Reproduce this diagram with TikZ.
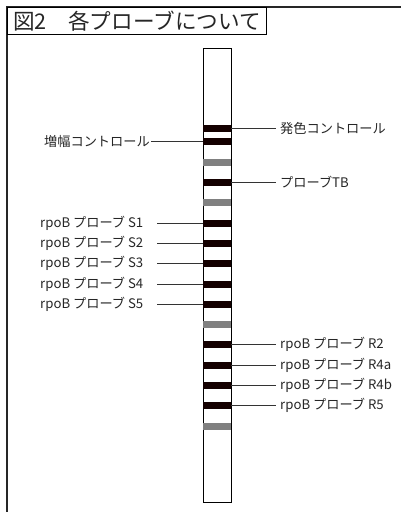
\documentclass[tikz,border=0pt]{standalone}
\usepackage{fontspec}
\setmainfont{Noto Sans CJK JP}
\newfontfamily\jp{Noto Sans CJK JP}
\begin{document}
\begin{tikzpicture}[x=1pt,y=-1pt,
  lbl/.style={font=\jp\fontsize{13.2}{15}\selectfont, inner sep=0pt, text=black!85},
  blackband/.style={fill=black!92!red},
  grayband/.style={fill=black!50},
  conn/.style={line width=0.9pt, black!80}]
\useasboundingbox (0,0) rectangle (401,512);
% frame
\draw[line width=1.2pt, black!85] (7,512) -- (7,7) -- (401,7);
\node[draw, line width=1pt, minimum width=259pt, minimum height=27pt, anchor=north west, inner sep=0pt] (title) at (7,7) {};
\node[anchor=west, inner sep=0pt, font=\jp\fontsize{21.6}{23}\selectfont, text=black!85] (titletext) at (13,21) {図2　各プローブについて};
% strip
\node[draw, line width=1.4pt, minimum width=28pt, minimum height=454pt, anchor=north west, inner sep=0pt] (strip) at (203,48) {};
% bands
\foreach \y [count=\i] in {128,141,162,182,202,223,243,263,284,304,324,344,365,385,405,426}{
  \coordinate (L\i) at (203,\y);
  \coordinate (R\i) at (231,\y);
}
\foreach \y in {128,141,182,223,243,263,284,304,344,365,385,405}
  \fill[blackband] (203,\y-3.5) rectangle (231,\y+3.5);
\foreach \y in {162,202,324,426}
  \fill[grayband] (203,\y-3.5) rectangle (231,\y+3.5);
% right labels
\node[lbl, anchor=west] (hasshoku) at (280,128) {発色コントロール};
\draw[conn] (R1) -- (hasshoku.west -| 276,0);
\node[lbl, anchor=west] (tb) at (280,182) {プローブTB};
\draw[conn] (R4) -- (tb.west -| 276,0);
\node[lbl, anchor=west] (r2) at (280,344) {rpoB プローブ R2};
\draw[conn] (R12) -- (r2.west -| 276,0);
\node[lbl, anchor=west] (r4a) at (280,365) {rpoB プローブ R4a};
\draw[conn] (R13) -- (r4a.west -| 276,0);
\node[lbl, anchor=west] (r4b) at (280,385) {rpoB プローブ R4b};
\draw[conn] (R14) -- (r4b.west -| 276,0);
\node[lbl, anchor=west] (r5) at (280,405) {rpoB プローブ R5};
\draw[conn] (R15) -- (r5.west -| 276,0);
% left labels
\node[lbl, anchor=east] (zoufuku) at (150,141) {増幅コントロール};
\draw[conn] (zoufuku.east) ++(1,0) -- (L2);
\node[lbl, anchor=west] (s1) at (40,223) {rpoB プローブ S1};
\draw[conn] (157,223) -- (L6);
\node[lbl, anchor=west] (s2) at (40,243) {rpoB プローブ S2};
\draw[conn] (157,243) -- (L7);
\node[lbl, anchor=west] (s3) at (40,263) {rpoB プローブ S3};
\draw[conn] (157,263) -- (L8);
\node[lbl, anchor=west] (s4) at (40,284) {rpoB プローブ S4};
\draw[conn] (157,284) -- (L9);
\node[lbl, anchor=west] (s5) at (40,304) {rpoB プローブ S5};
\draw[conn] (157,304) -- (L10);
\end{tikzpicture}
\end{document}
